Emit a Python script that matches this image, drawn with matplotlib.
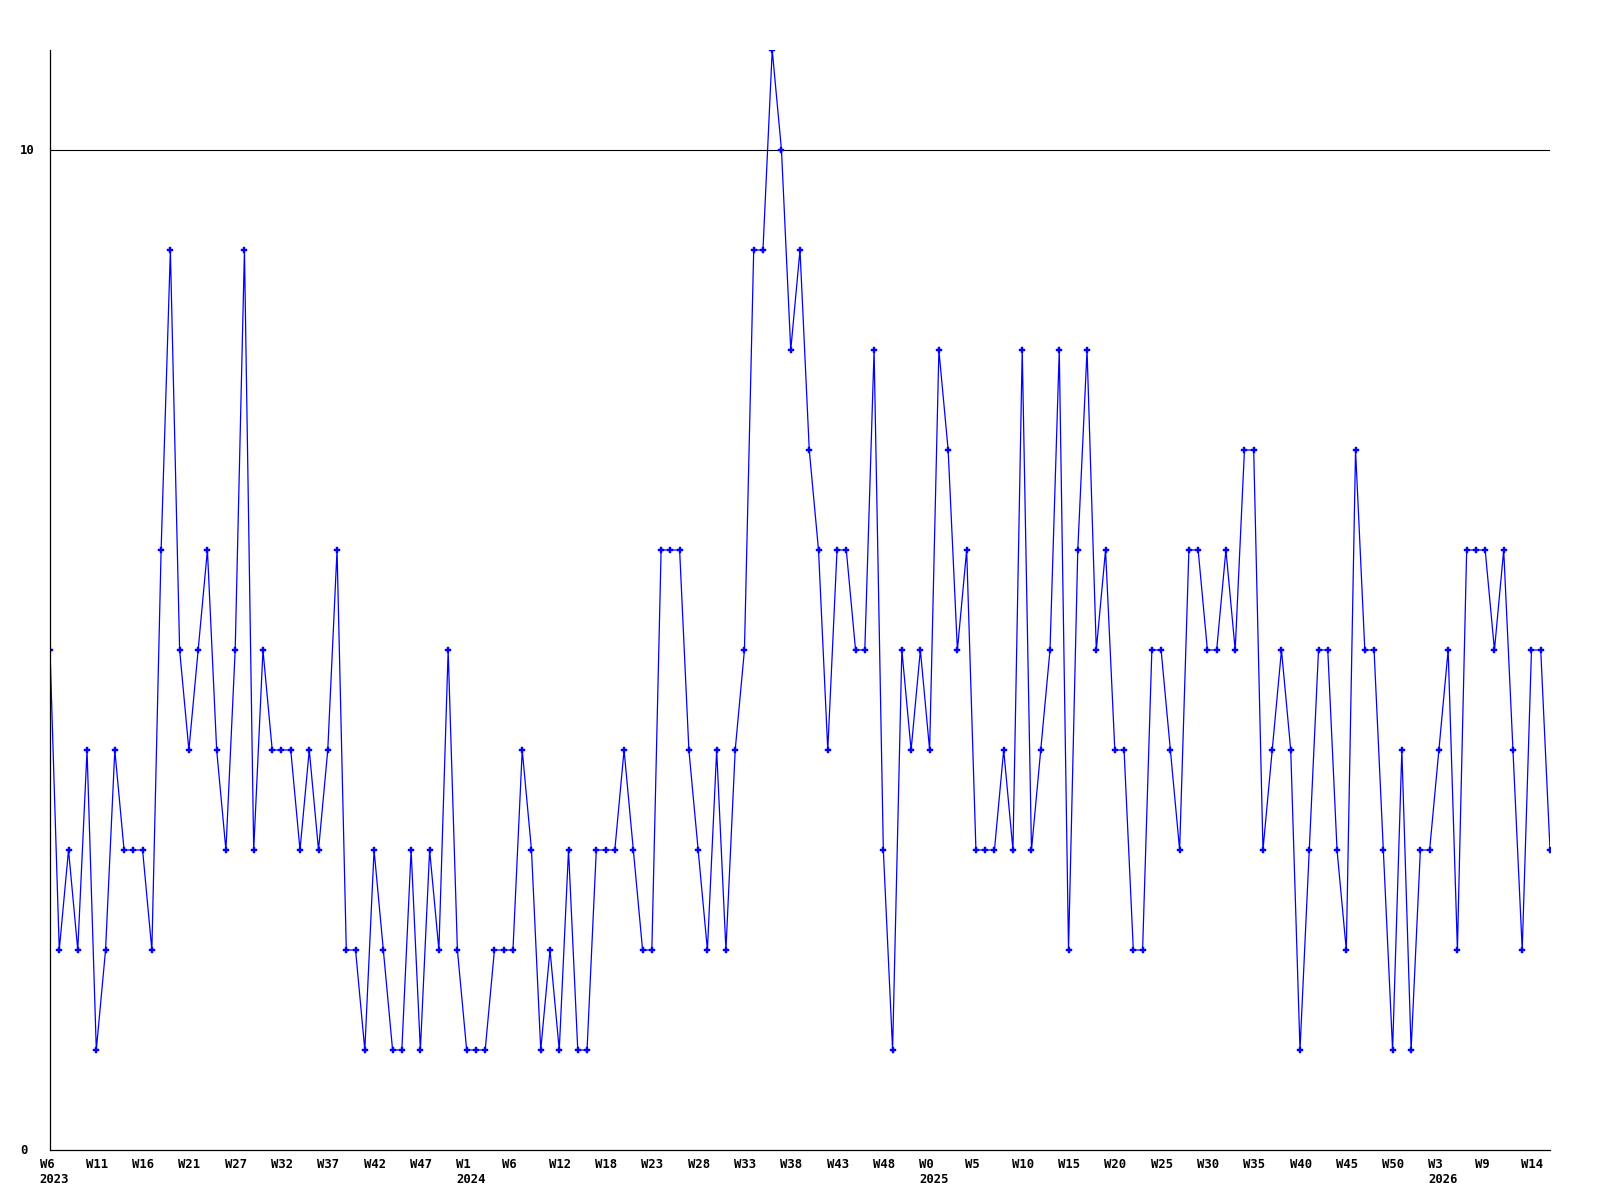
import matplotlib
matplotlib.use("Agg")
import matplotlib.pyplot as plt
import matplotlib.transforms as mtransforms

values = [5, 2, 3, 2, 4, 1, 2, 4, 3, 3, 3, 2, 6, 9, 5, 4, 5, 6, 4, 3,
          5, 9, 3, 5, 4, 4, 4, 3, 4, 3, 4, 6, 2, 2, 1, 3, 2, 1, 1, 3,
          1, 3, 2, 5, 2, 1, 1, 1, 2, 2, 2, 4, 3, 1, 2, 1, 3, 1, 1, 3,
          3, 3, 4, 3, 2, 2, 6, 6, 6, 4, 3, 2, 4, 2, 4, 5, 9, 9, 11, 10,
          8, 9, 7, 6, 4, 6, 6, 5, 5, 8, 3, 1, 5, 4, 5, 4, 8, 7, 5, 6,
          3, 3, 3, 4, 3, 8, 3, 4, 5, 8, 2, 6, 8, 5, 6, 4, 4, 2, 2, 5,
          5, 4, 3, 6, 6, 5, 5, 6, 5, 7, 7, 3, 4, 5, 4, 1, 3, 5, 5, 3,
          2, 7, 5, 5, 3, 1, 4, 1, 3, 3, 4, 5, 2, 6, 6, 6, 5, 6, 4, 2,
          5, 5, 3]

week_labels = ["W6", "W11", "W16", "W21", "W27", "W32", "W37", "W42", "W47",
               "W1", "W6", "W12", "W18", "W23", "W28", "W33", "W38", "W43", "W48",
               "W0", "W5", "W10", "W15", "W20", "W25", "W30", "W35", "W40", "W45",
               "W50", "W3", "W9", "W14"]
year_labels = {0: "2023", 9: "2024", 19: "2025", 30: "2026"}
y_ticks = [0, 10]

fig = plt.figure(figsize=(16, 12), dpi=100)
ax = fig.add_axes([50 / 1600, 50 / 1200, 1500 / 1600, 1100 / 1200])

x = list(range(len(values)))
ax.plot(x, values, color="#0000ff", linewidth=0.9, marker="P", markersize=4,
        markerfacecolor="#0000ff", markeredgecolor="#0000ff", markeredgewidth=0.3)

ax.set_xlim(0, len(values) - 1)
ax.set_ylim(0, 11)
ax.axhline(10, color="black", linewidth=0.8, zorder=0)

for s in ["top", "right"]:
    ax.spines[s].set_visible(False)
for s in ["left", "bottom"]:
    ax.spines[s].set_color("black")
    ax.spines[s].set_linewidth(0.9)

ax.set_xticks([])
ax.set_yticks([])

font = dict(family="DejaVu Sans Mono", fontweight="bold", fontsize=8.8)

# y labels, left-aligned at x=20px
for v in y_ticks:
    ax.text(20 / 1600, ax.transData.transform((0, v))[1] / 1200, str(v),
            transform=fig.transFigure, ha="left", va="center", **font)

off = mtransforms.offset_copy(ax.get_xaxis_transform(), fig=fig, x=-10.5, y=-8, units="dots")
off2 = mtransforms.offset_copy(ax.get_xaxis_transform(), fig=fig, x=-10.5, y=-23, units="dots")
for i, lab in enumerate(week_labels):
    xi = i * 5
    ax.text(xi, 0, lab, transform=off, ha="left", va="top", **font)
    if i in year_labels:
        ax.text(xi, 0, year_labels[i], transform=off2, ha="left", va="top", **font)

fig.savefig("out.png", dpi=100)
